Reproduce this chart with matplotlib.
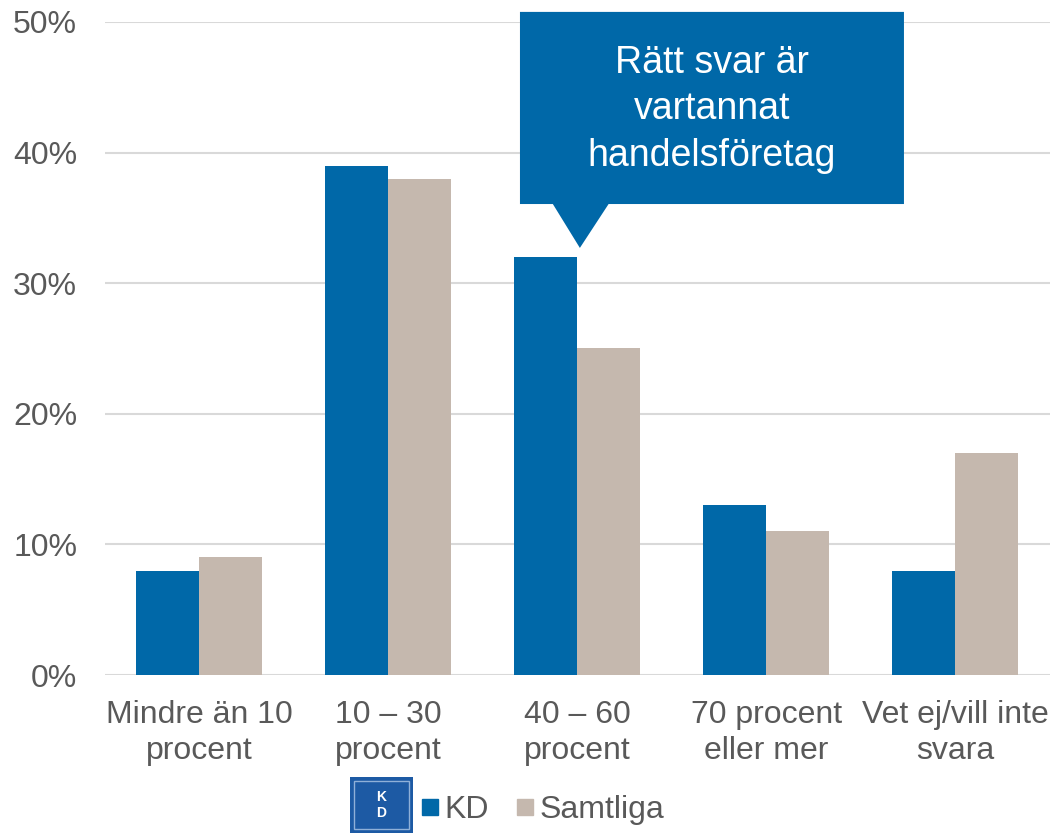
import matplotlib.pyplot as plt
import numpy as np
from matplotlib.patches import Polygon, Rectangle
from matplotlib.lines import Line2D

plt.rcParams['font.family'] = ['Liberation Sans', 'DejaVu Sans']

# --- Data ---
categories = ["Mindre än 10\nprocent", "10 – 30\nprocent", "40 – 60\nprocent",
              "70 procent\neller mer", "Vet ej/vill inte\nsvara"]
kd = [8, 39, 32, 13, 8]
samtliga = [9, 38, 25, 11, 17]
series_names = ["KD", "Samtliga"]

BLUE = '#0068A8'
BEIGE = '#C5B8AE'
GRAY = '#595959'

fig = plt.figure(figsize=(10.53, 8.35), dpi=100)
ax = fig.add_axes([0.0997, 0.1916, 0.8973, 0.7821])

x = np.arange(len(categories))
w = 1 / 3
ax.bar(x - w / 2, kd, w, color=BLUE, zorder=3)
ax.bar(x + w / 2, samtliga, w, color=BEIGE, zorder=3)

ax.set_xlim(-0.5, len(categories) - 0.5)
ax.set_ylim(0, 50)
ax.set_yticks(range(0, 51, 10))
ax.set_yticklabels([f"{v}%" for v in range(0, 51, 10)])
ax.set_xticks(x)
ax.set_xticklabels(categories, linespacing=1.27)
ax.tick_params(axis='both', length=0, labelsize=23, colors=GRAY)
ax.tick_params(axis='x', pad=18)
ax.tick_params(axis='y', pad=20)
ax.grid(axis='y', color='#D9D9D9', lw=1.5, zorder=0)
for s in ax.spines.values():
    s.set_visible(False)

# --- Callout ---
tip_x, tip_y = 2.013, 32.7
box = [(1.696, 50.77), (3.728, 50.77), (3.728, 36.06), (2.165, 36.06),
       (tip_x, tip_y), (1.87, 36.06), (1.696, 36.06)]
ax.add_patch(Polygon(box, closed=True, facecolor=BLUE, edgecolor='none',
                     clip_on=False, zorder=5))
ax.text(2.712, 43.3, "Rätt svar är\nvartannat\nhandelsföretag", color='white',
        fontsize=27, ha='center', va='center', linespacing=1.37, zorder=6)

# --- Legend with logo ---
fig.patches.append(Rectangle((350 / 1053, 1 - 833 / 835), 63 / 1053, 56 / 835,
                             transform=fig.transFigure, facecolor='#1D5AA4',
                             edgecolor='none'))
fig.patches.append(Rectangle((354 / 1053, 1 - 829 / 835), 55 / 1053, 48 / 835,
                             transform=fig.transFigure, facecolor='none',
                             edgecolor='#8FB0D8', lw=1))
fig.text(381.5 / 1053, 1 - 797 / 835, "K", color='white', fontsize=10,
         fontweight='bold', ha='center', va='center')
fig.text(381.5 / 1053, 1 - 813 / 835, "D", color='white', fontsize=10,
         fontweight='bold', ha='center', va='center')

handles = [Line2D([], [], marker='s', ls='none', color=c, markersize=12)
           for c in (BLUE, BEIGE)]
leg = fig.legend(handles, series_names, loc='center', ncol=2,
                 bbox_to_anchor=(543 / 1053, 1 - 810 / 835), frameon=False,
                 fontsize=23, handlelength=0.5, handletextpad=0.2,
                 columnspacing=0.9, borderaxespad=0)
for t in leg.get_texts():
    t.set_color(GRAY)

fig.savefig("out.png", dpi=100)
